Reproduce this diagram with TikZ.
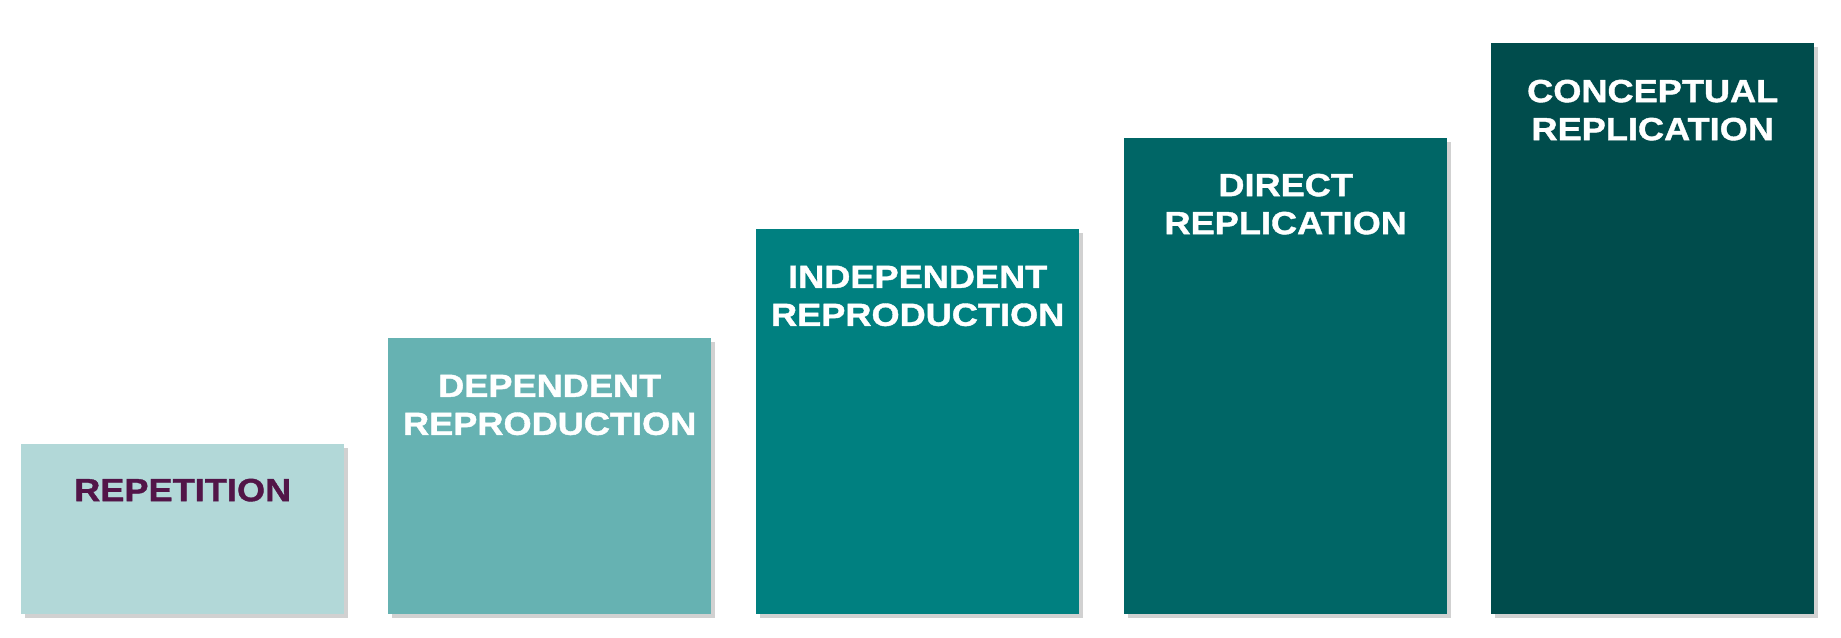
\documentclass[tikz,border=0pt]{standalone}
\usepackage{fontspec}
\setmainfont{Liberation Sans}[BoldFeatures={FakeStretch=1.13,FakeBold=1.2}]
\usepackage{tikz}
\usetikzlibrary{positioning,shadows}

\definecolor{tealA}{HTML}{B2D8D8}
\definecolor{tealB}{HTML}{66B2B2}
\definecolor{tealC}{HTML}{008080}
\definecolor{tealD}{HTML}{006666}
\definecolor{tealE}{HTML}{004C4C}
\definecolor{plum}{HTML}{521548}

\begin{document}
\begin{tikzpicture}[
x=1pt, y=-1pt,
bar/.style={rectangle, draw=none, anchor=south west, minimum width=323pt, inner sep=0pt, drop shadow={shadow xshift=4pt, shadow yshift=-4pt, fill=black!45, opacity=0.4}},
caption/.style={anchor=north, inner sep=0pt, align=center, text=white, font=\fontsize{32}{38}\selectfont\bfseries},
]
\useasboundingbox (0,0) rectangle (1841,637);

% the five steps
\node[bar, fill=tealA, minimum height=170pt] (rep) at (21,614) {};
\node[bar, fill=tealB, minimum height=276pt] (dep) at (388,614) {};
\node[bar, fill=tealC, minimum height=385pt] (ind) at (756,614) {};
\node[bar, fill=tealD, minimum height=476pt] (dir) at (1124,614) {};
\node[bar, fill=tealE, minimum height=571pt] (con) at (1491,614) {};

% their names
\node[caption, text=plum] (repname) at ([yshift=-35pt]rep.north) {REPETITION};
\node[caption] (depname) at ([yshift=-37pt]dep.north) {DEPENDENT\\REPRODUCTION};
\node[caption] (indname) at ([yshift=-37pt]ind.north) {INDEPENDENT\\REPRODUCTION};
\node[caption] (dirname) at ([yshift=-36pt]dir.north) {DIRECT\\REPLICATION};
\node[caption] (conname) at ([yshift=-37pt]con.north) {CONCEPTUAL\\REPLICATION};
\end{tikzpicture}
\end{document}
